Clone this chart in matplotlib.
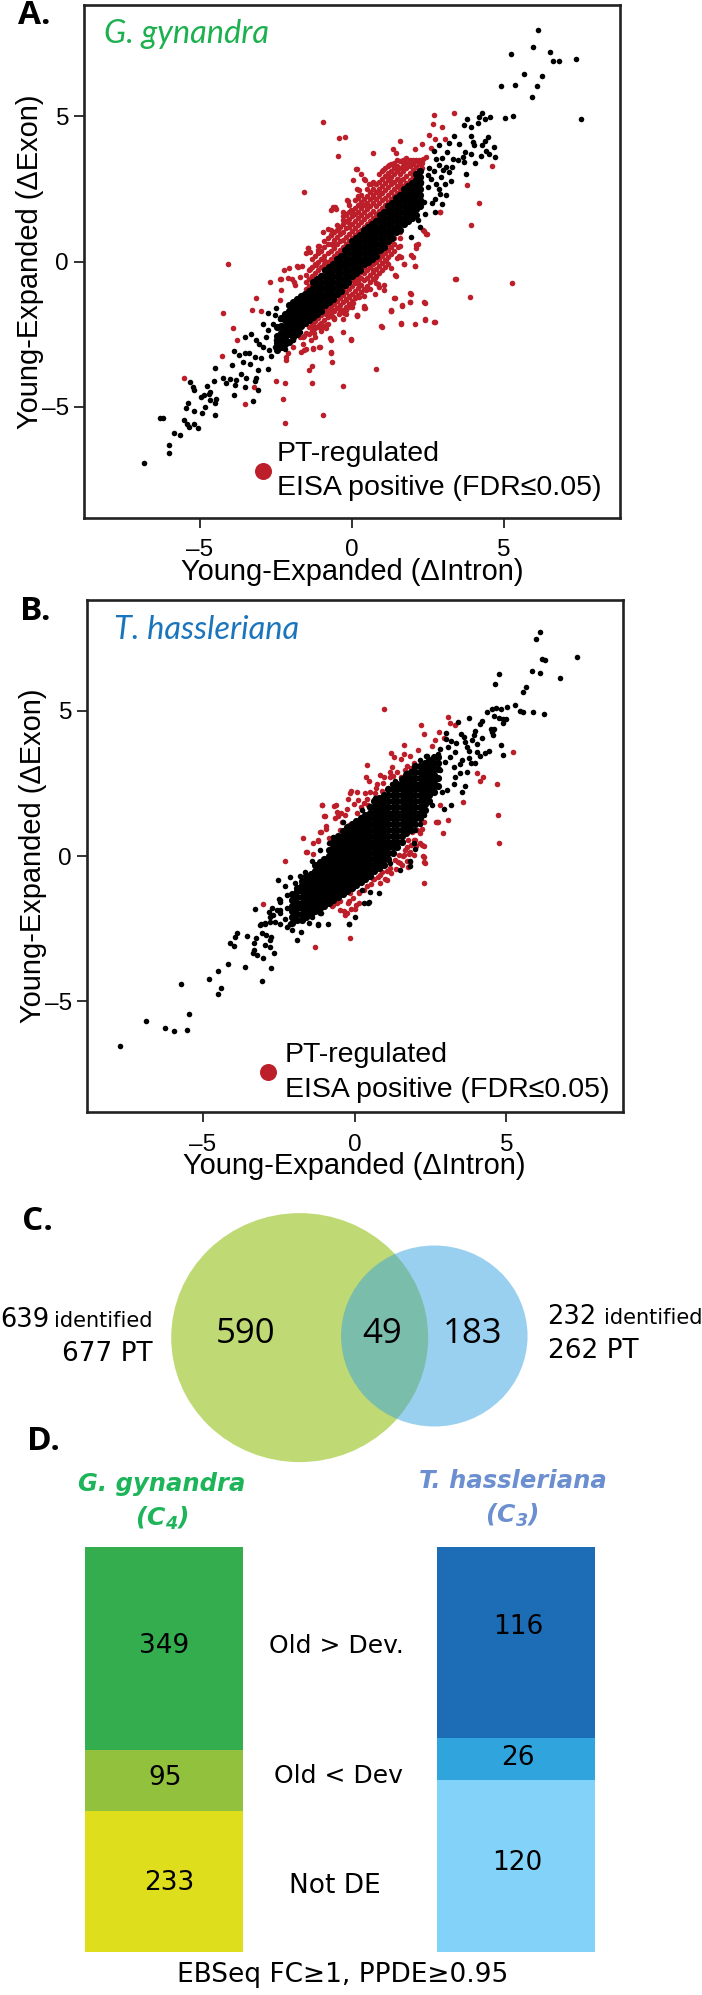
import matplotlib
matplotlib.use('Agg')
import matplotlib.pyplot as plt
from matplotlib.patches import Ellipse

W, H = 702, 1995
SANS = 'Liberation Sans'

# panel A, points (dIntron, dExon)
a_black = [
    (6.13,7.97),(5.98,7.38),(5.25,7.12),(6.52,7.22),(6.62,6.88),(6.82,6.88),(7.39,6.95),(5.67,6.44),(6.27,6.37),
    (4.91,6.05),(5.38,6.08),(6.10,6.05),(5.94,5.65),(5.03,4.94),(5.32,5.02),(7.54,4.90),(4.28,5.11),(4.18,4.96),
    (4.40,4.91),(4.54,4.96),(3.80,4.91),(4.16,4.78),(3.71,4.71),(3.91,4.63),(3.37,4.32),(3.91,4.32),(4.47,4.28),
    (3.20,4.08),(3.54,4.03),(3.98,4.11),(4.40,4.15),(2.88,4.01),(4.03,4.00),(4.28,3.99),(4.68,3.93),(2.70,3.79),
    (3.13,3.77),(3.72,3.77),(3.94,3.69),(4.42,3.80),(4.71,3.60),(4.24,3.62),(4.51,3.69),(3.65,3.60),(2.77,3.53),
    (2.97,3.56),(3.32,3.54),(3.49,3.48),(3.71,3.42),(4.07,3.40),(3.30,3.25),(2.88,3.31),(3.10,3.25),(2.53,3.22),
    (3.75,3.02),(3.21,3.08),(2.99,3.14),(2.72,3.12),(2.50,2.97),(2.94,2.91),(2.61,2.85),(3.28,2.78),(3.06,2.68),
    (2.77,2.68),(2.28,2.74),(2.88,2.51),(2.50,2.57),(3.10,2.29),(2.92,2.31),(2.73,2.16),(2.97,1.99),(2.64,2.02),
    (2.42,1.65),(2.73,1.71),(2.25,1.19),(2.17,1.42),(1.95,0.85),(2.05,2.22),(2.39,2.05),(2.12,1.88),(1.84,1.53),
    (-6.85,-6.91),(-6.02,-6.32),(-6.01,-6.59),(-5.86,-5.88),(-5.67,-5.97),(-6.30,-5.39),(-6.22,-5.39),(-5.53,-5.45),
    (-5.42,-5.59),(-5.37,-5.70),(-5.18,-5.59),(-5.08,-5.73),(-5.47,-5.05),(-5.38,-4.86),(-5.21,-5.14),(-4.93,-5.22),
    (-4.51,-5.29),(-4.84,-4.99),(-4.52,-4.86),(-4.48,-4.71),(-4.68,-4.77),(-4.96,-4.67),(-4.88,-4.60),(-4.70,-4.56),
    (-4.77,-4.28),(-4.67,-4.49),(-5.34,-4.13),(-5.23,-4.33),(-5.18,-4.42),(-4.53,-4.09),(-4.50,-3.65),(-3.89,-4.58),
    (-3.26,-4.80),(-3.09,-4.42),(-3.53,-4.33),(-3.86,-4.25),(-4.13,-4.19),(-4.24,-4.02),(-4.02,-4.05),(-3.80,-4.08),
    (-3.64,-3.85),(-3.48,-3.99),(-3.15,-4.02),(-3.20,-4.10),(-3.94,-3.56),(-3.59,-3.45),(-3.34,-3.53),(-3.09,-3.73),
    (-2.76,-3.70),(-3.88,-3.08),(-3.70,-3.22),(-3.53,-3.14),(-3.39,-3.16),(-3.20,-3.28),(-2.98,-3.33),(-2.65,-3.24),
    (-3.53,-2.61),(-3.31,-2.50),(-3.15,-2.70),(-2.93,-2.93),(-2.71,-3.05),(-3.04,-2.82),(-2.54,-2.93),(-2.82,-2.59),
    (-2.49,-2.70),(-2.21,-2.99),(-2.76,-2.36),(-2.60,-2.13),(-2.32,-2.42),(-2.93,-2.13),(-2.49,-1.61),(-2.76,-1.76),
    (-2.54,-1.84),(-2.38,-1.96),(-2.16,-2.13),(-1.94,-2.70),(-1.94,-2.47),(-1.72,-2.42),
]
# dense band of panel A, dIntron value -> dExon values
a_core = {
    -2.45: [-3.05,-2.8,-2.55,-2.25], -2.32: [-2.95,-2.7,-2.45,-2.2,-1.95], -2.19: [-2.85,-2.6,-2.4,-2.2,-2.0,-1.8],
    -2.06: [-2.75,-2.5,-2.3,-2.1,-1.9,-1.7,-1.5], -1.93: [-2.6,-2.4,-2.2,-2.0,-1.8,-1.6,-1.4],
    -1.8: [-2.5,-2.3,-2.1,-1.9,-1.7,-1.5,-1.3], -1.67: [-2.2,-2.0,-1.8,-1.6,-1.4,-1.2],
    -1.54: [-2.1,-1.9,-1.7,-1.5,-1.3,-1.1], -1.41: [-2.0,-1.8,-1.6,-1.4,-1.2,-1.0],
    -1.28: [-1.9,-1.7,-1.5,-1.3,-1.1,-0.9,-0.7], -1.15: [-1.8,-1.6,-1.4,-1.2,-1.0,-0.8,-0.6],
    -1.02: [-1.7,-1.5,-1.3,-1.1,-0.9,-0.7,-0.5], -0.89: [-1.5,-1.3,-1.1,-0.9,-0.7,-0.5,-0.3],
    -0.76: [-1.4,-1.2,-1.0,-0.8,-0.6,-0.4,-0.2], -0.63: [-1.3,-1.1,-0.9,-0.7,-0.5,-0.3,-0.1],
    -0.5: [-1.1,-0.9,-0.7,-0.5,-0.3,-0.1,0.1], -0.37: [-1.0,-0.8,-0.6,-0.4,-0.2,0.0,0.2],
    -0.24: [-0.8,-0.6,-0.4,-0.2,0.0,0.2,0.4], -0.11: [-0.7,-0.5,-0.3,-0.1,0.1,0.3,0.5],
    0.02: [-0.5,-0.3,-0.1,0.1,0.3,0.5,0.7], 0.15: [-0.4,-0.2,0.0,0.2,0.4,0.6,0.8],
    0.28: [-0.3,-0.1,0.1,0.3,0.5,0.7,0.9], 0.41: [-0.1,0.1,0.3,0.5,0.7,0.9,1.1],
    0.54: [0.0,0.2,0.4,0.6,0.8,1.0,1.2], 0.67: [0.1,0.3,0.5,0.7,0.9,1.1,1.3],
    0.8: [0.2,0.4,0.6,0.8,1.0,1.2,1.4], 0.93: [0.4,0.6,0.8,1.0,1.2,1.4,1.6],
    1.06: [0.5,0.7,0.9,1.1,1.3,1.5,1.7], 1.19: [0.7,0.9,1.1,1.3,1.5,1.7,1.9],
    1.32: [0.8,1.0,1.2,1.4,1.6,1.8,2.0], 1.45: [1.0,1.2,1.4,1.6,1.8,2.0,2.2],
    1.58: [1.1,1.3,1.5,1.7,1.9,2.1,2.3], 1.71: [1.3,1.5,1.7,1.9,2.1,2.3,2.5],
    1.84: [1.4,1.6,1.8,2.0,2.2,2.4,2.6], 1.97: [1.5,1.7,1.9,2.1,2.3,2.5,2.7],
    2.1: [1.6,1.8,2.0,2.2,2.4,2.6,2.8,3.0], 2.23: [1.9,2.1,2.3,2.5,2.7,2.9,3.1],
}
a_red = [
    (-0.94,4.79),(-0.43,4.25),(-0.24,4.29),(-0.46,3.64),(0.69,3.74),(1.60,4.16),(1.35,3.86),(1.47,3.73),(2.09,3.86),
    (2.31,4.03),(2.72,5.04),(3.37,5.12),(2.68,4.72),(2.97,4.61),(2.53,4.36),(2.75,4.23),(3.07,4.23),(2.60,3.92),
    (-1.56,2.38),(0.15,3.19),(0.03,2.81),(0.40,2.83),(0.18,2.48),(0.62,2.68),(-0.63,1.89),(-0.53,1.82),(-0.15,2.13),
    (-4.06,-0.09),(-2.69,-0.72),(-2.22,-0.28),(-2.07,-0.21),(-1.76,-0.18),(-1.44,0.45),(-1.51,0.31),(-2.32,-0.60),
    (-1.96,-0.60),(-1.88,-0.80),(-3.16,-1.26),(-2.38,-1.33),(-3.28,-1.68),(-2.99,-1.69),(-4.25,-1.78),(-3.90,-2.30),
    (-3.78,-2.70),(-4.26,-3.25),(-5.54,-4.02),(-2.51,-4.12),(-2.21,-4.19),(-1.32,-4.17),(-0.28,-4.28),(-3.22,-4.30),
    (-2.28,-4.74),(-3.53,-4.91),(-0.94,-5.29),(-2.21,-5.56),(0.81,-3.69),(-1.40,-3.73),(-1.32,-3.58),(-0.69,-3.12),
    (-0.66,-3.46),(-0.71,-2.64),(-0.01,-2.65),(0.97,-2.22),(1.62,-2.11),(2.09,-2.14),(2.40,-1.98),(2.71,-2.07),
    (1.28,-1.69),(1.40,-1.26),(1.65,-1.50),(1.91,-1.09),(1.91,-1.39),(2.38,-1.39),(3.41,-0.59),(3.90,-1.21),(5.26,-0.73),
    (3.91,1.26),(4.19,2.01),(3.79,2.64),(4.60,3.29),(2.90,1.69),(2.38,1.04),(2.47,0.94),(2.13,0.58),(2.09,-0.14),
    (2.01,0.16),(1.72,-0.08),(1.57,0.18),(1.43,-0.47),(1.06,-0.80),(0.91,-0.87),(0.76,-1.13),(0.40,-1.52),(0.18,-1.85),
    (-0.26,-1.78),(-0.63,-1.92),(-1.29,-2.18),(-1.07,-2.24),(-0.85,-2.18),(-1.59,-2.57),(-1.29,-2.97),(-1.59,-3.03),
    (-1.07,-2.94),(-2.10,-3.16),(-2.18,-3.29),(-1.67,-3.10),(-1.50,-3.02),(-1.28,-2.99),(-1.06,-2.93),(-0.68,-3.14),
    (-0.70,-2.68),(-0.30,-2.42),(-0.02,-2.68),(0.16,-1.84),(0.39,-1.59),(0.99,-2.24),(1.29,-1.67),(-0.57,-1.96),
    (-0.30,-1.96),(-0.95,-2.24),(-1.23,-2.24),(-1.50,-2.47),(-1.72,-2.59),(-1.94,-2.93),(-2.16,-3.39),(-0.62,-1.67),
    (-0.84,-1.79),(-1.06,-2.13),(-0.19,-1.67),(0.03,-1.44),(0.25,-1.21),(-0.08,-1.21),(-0.41,-1.56),(-0.73,-1.50),
    (-1.23,-2.47),(-1.61,-2.82),
    (-2.35,-0.61),(-2.32,-0.99),(-2.11,-0.55),(-1.89,-0.70),(-1.80,-0.16),(-1.63,-0.16),(-1.72,-0.53),(-1.39,-0.24),
    (-1.45,0.45),(-1.39,0.33),(-1.09,0.53),(-0.95,1.02),(-0.79,1.13),(-0.68,1.76),(-0.54,1.86),(-0.13,2.07),(0.16,3.17),
    (0.31,3.02),(0.44,2.82),(0.23,2.47),(0.20,2.25),(0.58,2.65),(0.80,2.65),(1.22,3.31),(1.40,3.29),(1.04,3.14),(1.18,2.97),
    (1.29,2.74),(1.51,2.85),(1.68,3.42),(1.90,3.37),(2.12,3.48),(2.34,3.54),(2.45,3.60),(1.57,2.57),(0.96,2.34),(0.69,2.22),
    (0.47,1.99),(0.25,1.94),(-0.02,1.76),(-0.18,1.65),(-0.30,1.42),(-0.13,1.36),(-0.46,1.08),(-0.68,0.90),(-0.63,0.56),
    (-1.12,0.39),(-0.90,0.05),(-1.17,-0.13),
    (3.43,-0.60),(1.95,-1.10),(1.43,-1.26),(1.93,-1.40),(2.40,-1.42),(1.66,-1.52),(1.29,-1.70),(2.41,-2.00),(2.73,-2.08),
    (1.63,-2.13),(0.42,-1.60),(0.16,-1.86),(1.07,-0.99),(0.86,-0.76),(0.75,-0.58),(1.44,-0.49),(1.29,-0.22),(1.62,0.16),
    (1.48,0.13),(1.73,-0.10),(1.95,0.22),(2.09,-0.16),(1.13,0.01),(2.17,0.62),(2.12,0.48),(2.45,0.96),(2.34,1.08),(2.91,1.70),
    (1.51,0.50),(0.47,-0.99),(0.14,-1.21),(-0.08,-1.56),(-0.41,-1.79),(-0.84,-2.30),(-1.23,-2.25),(-1.61,-2.59),(-1.34,-2.70),
    (0.25,-0.76),(0.69,-0.30),(-0.19,-1.33),(-0.84,-1.79),
]
a_red_up = {
    -1.5: [-0.95,-0.7,-0.45], -1.4: [-0.85,-0.6,-0.3], -1.3: [-0.75,-0.5,-0.2,0.1], -1.2: [-0.65,-0.4,-0.1,0.2], -1.1: [-0.55,-0.3,0.0,0.3,0.55],
    -1.0: [-0.45,-0.2,0.1,0.35], -0.9: [-0.3,-0.1,0.2,0.5,0.7], -0.8: [-0.2,0.0,0.3,0.6,0.8], -0.7: [-0.1,0.1,0.35,0.6,0.9,1.1],
    -0.6: [0.0,0.2,0.45,0.75,1.0], -0.5: [0.1,0.3,0.6,0.85,1.1,1.25], -0.4: [0.2,0.4,0.7,0.95,1.2], -0.3: [0.3,0.5,0.75,1.0,1.3,1.55,1.7],
    -0.2: [0.4,0.6,0.85,1.15,1.4,1.6], -0.1: [0.5,0.7,0.95,1.2,1.45,1.7,1.95], 0.0: [0.6,0.8,1.05,1.3,1.55,1.75],
    0.1: [0.7,0.9,1.15,1.4,1.65,1.85,2.1], 0.2: [0.8,1.0,1.25,1.5,1.7,1.95,2.2], 0.3: [0.9,1.1,1.35,1.6,1.85,2.05,2.3],
    0.4: [1.0,1.2,1.45,1.7,1.95,2.15], 0.5: [1.1,1.3,1.55,1.8,2.0,2.25,2.5], 0.6: [1.2,1.4,1.65,1.9,2.15,2.4],
    0.7: [1.3,1.5,1.75,2.0,2.3,2.5,2.75], 0.8: [1.45,1.65,1.9,2.15,2.4,2.65], 0.9: [1.55,1.75,2.0,2.25,2.5,2.75,3.0],
    1.0: [1.65,1.85,2.1,2.35,2.6,2.85,3.1], 1.1: [1.75,1.95,2.2,2.45,2.7,2.95,3.2], 1.2: [1.85,2.05,2.3,2.55,2.8,3.05,3.3],
    1.3: [1.95,2.15,2.4,2.65,2.9,3.1,3.35], 1.4: [2.05,2.25,2.5,2.75,3.0,3.2,3.4], 1.5: [2.15,2.35,2.6,2.85,3.1,3.3,3.5],
    1.6: [2.3,2.5,2.75,3.0,3.2,3.45], 1.7: [2.4,2.6,2.85,3.1,3.3,3.5], 1.8: [2.5,2.7,2.95,3.2,3.4,3.55], 1.9: [2.6,2.8,3.05,3.3,3.5],
    2.0: [2.7,2.9,3.15,3.35,3.5], 2.1: [3.05,3.25,3.45], 2.2: [3.15,3.35,3.5], 2.3: [3.2,3.4],
}
a_red_low = {
    -1.4: [-2.25,-2.5], -1.3: [-2.15,-2.4], -1.2: [-1.95,-2.05,-2.3,-2.6], -1.1: [-1.8,-1.95,-2.2], -1.0: [-1.65,-1.85,-2.1,-2.4],
    -0.9: [-1.55,-1.75,-2.0], -0.8: [-1.45,-1.65,-1.9,-2.15], -0.7: [-1.35,-1.55,-1.8], -0.6: [-1.25,-1.45,-1.7,-1.95], -0.5: [-1.15,-1.35,-1.6],
    -0.4: [-1.05,-1.25,-1.5,-1.75], -0.3: [-0.95,-1.15,-1.4,-1.65], -0.2: [-0.85,-1.05,-1.3,-1.55,-1.8], -0.1: [-0.75,-0.95,-1.2,-1.45],
    0.0: [-0.65,-0.85,-1.1,-1.35,-1.55], 0.1: [-0.55,-0.75,-1.0,-1.25], 0.2: [-0.45,-0.65,-0.9,-1.15], 0.3: [-0.35,-0.55,-0.8,-1.05],
    0.4: [-0.2,-0.4,-0.65,-0.95,-1.2], 0.5: [-0.1,-0.3,-0.55,-0.85], 0.6: [0.0,-0.2,-0.45,-0.7,-0.95], 0.7: [0.1,-0.1,-0.35,-0.6],
    0.8: [0.2,0.0,-0.25,-0.5,-0.75], 0.9: [0.3,0.1,-0.15,-0.4], 1.0: [0.4,0.2,-0.05,-0.3], 1.1: [0.5,0.3,0.05,-0.2], 1.2: [0.6,0.4,0.15,-0.1],
    1.3: [0.7,0.5,0.25], 1.4: [0.8,0.6,0.35], 1.6: [1.0,0.8,0.55],
}

# panel B
b_black = [
    (6.09,7.71),(5.96,7.49),(6.17,6.80),(6.28,6.77),(7.31,6.86),(5.84,6.38),(6.12,6.31),(4.77,6.27),(6.75,6.15),
    (4.61,5.93),(5.65,5.83),(5.54,5.64),(5.27,5.22),(5.02,5.13),(4.35,4.98),(4.54,5.08),(4.67,5.10),(4.82,5.08),
    (5.46,5.01),(5.54,4.97),(5.87,4.95),(6.24,4.89),(4.59,4.84),(3.78,4.76),(4.74,4.76),(4.90,4.72),(4.99,4.72),
    (3.39,4.63),(4.19,4.64),(4.90,4.59),(4.13,4.54),(4.50,4.39),(4.60,4.39),(3.97,4.31),(4.52,4.27),(3.01,4.24),
    (3.92,4.16),(4.56,4.17),(3.50,4.22),(3.59,4.11),(4.18,4.08),(3.86,3.99),(3.01,4.05),(3.64,3.93),(3.18,3.97),
    (4.82,3.82),(4.03,3.86),(3.33,3.88),(3.70,3.76),(3.09,3.76),(4.41,3.62),(2.80,3.70),(4.30,3.56),(4.90,3.49),
    (4.03,3.59),(3.77,3.61),(4.13,3.44),(3.31,3.59),(2.76,3.53),(2.38,3.45),(3.15,3.42),(3.75,3.39),(3.53,3.30),
    (3.97,3.22),(3.84,3.22),(3.48,3.17),(3.26,3.07),(2.98,3.25),(3.70,2.90),(3.48,2.87),(3.31,2.73),(2.82,2.96),
    (3.64,2.42),(3.27,2.48),(3.04,2.27),(3.55,2.20),(2.87,2.21),(3.18,1.75),(2.54,1.75),(2.93,1.61),(2.27,1.41),
    (2.16,1.12),(1.99,0.89),
    (-7.72,-6.53),(-6.87,-5.68),(-6.26,-5.92),(-5.96,-6.03),(-5.54,-6.0),(-5.46,-5.45),(-5.72,-4.39),(-4.79,-4.22),
    (-4.52,-3.95),(-4.42,-4.54),(-4.49,-4.74),(-4.18,-3.72),(-3.63,-3.81),(-3.06,-4.29),(-2.77,-3.86),(-3.01,-3.51),
    (-3.22,-3.42),(-3.35,-3.35),(-3.31,-3.23),(-2.66,-3.35),(-4.10,-3.0),(-3.97,-3.10),(-3.95,-2.80),(-3.88,-2.63),
    (-3.56,-2.75),(-3.25,-2.83),(-3.31,-3.0),(-2.78,-3.12),(-2.95,-3.06),(-2.79,-2.89),(-3.05,-2.64),(-2.91,-2.72),
    (-2.75,-2.80),(-1.89,-2.90),(-1.77,-2.60),(-3.30,-1.82),(-3.09,-2.35),(-2.95,-2.32),(-2.73,-1.77),(-2.84,-1.91),
    (-2.68,-2.03),(-2.79,-2.26),(-2.62,-2.26),(-2.45,-2.32),(-2.24,-2.43),(-2.07,-2.55),(-2.13,-2.32),(-2.30,-2.15),
    (-2.45,-1.97),(-2.56,-1.86),(-2.45,-1.51),(-2.24,-1.80),(-2.02,-1.97),(-1.74,-2.09),(-1.50,-2.29),(-1.20,-2.36),
    (-0.87,-2.32),(-1.11,-1.97),(-1.47,-1.86),(-1.90,-1.69),(-2.24,-1.34),(-2.02,-1.40),(-0.20,-2.32),(0.02,-2.11),
    (0.29,-1.63),(0.46,-1.57),
    (-2.54,-0.83),(-2.12,-0.73),(-2.29,-1.02),(-1.80,-0.69),(-1.63,-0.54),(-1.96,-0.94),(-2.48,-1.46),(-2.96,-2.29),
    (-2.47,-1.57),(-1.96,-1.28),(-1.91,-1.63),(-1.41,-2.09),(-1.22,-2.35),(-1.14,-1.97),(-0.20,-2.33),(0.45,-1.63),
    (0.80,-1.27),(0.51,-1.23),(0.24,-1.17),(1.50,-0.49),(1.83,-0.34),(1.81,-0.16),(1.99,0.23),(1.96,0.44),(-0.37,1.18),
    (0.23,1.58),(0.67,2.01),(1.22,2.50),(1.33,2.59),(1.69,2.88),(1.94,3.02),(2.16,3.30),(2.35,3.44),(-0.86,0.44),
    (-1.14,0.21),(-1.41,-0.16),(-0.70,0.66),(1.17,-0.25),(-0.48,-1.28),(-0.86,-1.34),(-1.25,-1.63),(-2.79,-2.09),
    (-3.13,-2.37),(-2.46,-1.86),(-2.02,-1.86),(-2.13,-2.32),
]
b_core = {
    -2.05: [-2.3,-2.1,-1.9,-1.7,-1.5,-1.3], -1.9: [-2.2,-2.0,-1.8,-1.6,-1.4,-1.2,-1.1],
    -1.75: [-2.2,-2.0,-1.8,-1.6,-1.4,-1.2,-1.0,-0.85], -1.6: [-2.1,-1.9,-1.7,-1.5,-1.3,-1.1,-0.9,-0.7],
    -1.45: [-2.0,-1.8,-1.6,-1.4,-1.2,-1.0,-0.8,-0.6], -1.3: [-1.9,-1.7,-1.5,-1.3,-1.1,-0.9,-0.7,-0.5,-0.3],
    -1.15: [-1.8,-1.6,-1.4,-1.2,-1.0,-0.8,-0.6,-0.4,-0.2], -1.0: [-1.7,-1.5,-1.3,-1.1,-0.9,-0.7,-0.5,-0.3,-0.1],
    -0.85: [-1.6,-1.4,-1.2,-1.0,-0.8,-0.6,-0.4,-0.2,0.0,0.2], -0.7: [-1.5,-1.3,-1.1,-0.9,-0.7,-0.5,-0.3,-0.1,0.1,0.3,0.5],
    -0.55: [-1.4,-1.2,-1.0,-0.8,-0.6,-0.4,-0.2,0.0,0.2,0.4,0.6,0.7], -0.4: [-1.3,-1.1,-0.9,-0.7,-0.5,-0.3,-0.1,0.1,0.3,0.5,0.7,0.85],
    -0.25: [-1.2,-1.0,-0.8,-0.6,-0.4,-0.2,0.0,0.2,0.4,0.6,0.8,1.0], -0.1: [-1.1,-0.9,-0.7,-0.5,-0.3,-0.1,0.1,0.3,0.5,0.7,0.9,1.1],
    0.05: [-1.0,-0.8,-0.6,-0.4,-0.2,0.0,0.2,0.4,0.6,0.8,1.0,1.2], 0.2: [-0.9,-0.7,-0.5,-0.3,-0.1,0.1,0.3,0.5,0.7,0.9,1.1,1.3],
    0.35: [-0.8,-0.6,-0.4,-0.2,0.0,0.2,0.4,0.6,0.8,1.0,1.2,1.4], 0.5: [-0.7,-0.5,-0.3,-0.1,0.1,0.3,0.5,0.7,0.9,1.1,1.3,1.5,1.7],
    0.65: [-0.5,-0.3,-0.1,0.1,0.3,0.5,0.7,0.9,1.1,1.3,1.5,1.7,1.9], 0.8: [-0.4,-0.2,0.0,0.2,0.4,0.6,0.8,1.0,1.2,1.4,1.6,1.8,2.0],
    0.95: [-0.3,-0.1,0.1,0.3,0.5,0.7,0.9,1.1,1.3,1.5,1.7,1.9,2.1], 1.1: [-0.1,0.1,0.3,0.5,0.7,0.9,1.1,1.3,1.5,1.7,1.9,2.1,2.3],
    1.25: [0.1,0.3,0.5,0.7,0.9,1.1,1.3,1.5,1.7,1.9,2.1,2.3], 1.4: [0.3,0.5,0.7,0.9,1.1,1.3,1.5,1.7,1.9,2.1,2.3,2.5],
    1.55: [0.5,0.7,0.9,1.1,1.3,1.5,1.7,1.9,2.1,2.3,2.5,2.65], 1.7: [0.8,1.0,1.2,1.4,1.6,1.8,2.0,2.2,2.4,2.6,2.8],
    1.85: [0.9,1.1,1.3,1.5,1.7,1.9,2.1,2.3,2.5,2.7,2.9], 2.0: [1.1,1.3,1.5,1.7,1.9,2.1,2.3,2.5,2.7,2.9,3.1],
    2.15: [1.3,1.5,1.7,1.9,2.1,2.3,2.5,2.7,2.9,3.1], 2.3: [1.6,1.8,2.0,2.2,2.4,2.6,2.8,3.0,3.2],
    2.45: [1.9,2.1,2.3,2.5,2.7,2.9,3.1,3.3], 2.6: [2.2,2.4,2.6,2.8,3.0,3.2,3.4], 2.75: [2.4,2.7,3.0,3.2,3.4],
}
b_red = [
    (0.96,5.07),(3.07,4.79),(3.13,4.59),(3.30,4.50),(2.19,4.50),(2.77,4.28),(2.27,4.20),(2.66,3.99),(2.93,4.08),
    (1.62,3.83),(2.55,3.78),(2.08,3.66),(1.21,3.56),(1.61,3.52),(1.81,3.45),(1.28,3.41),(1.51,3.33),(5.23,3.60),
    (0.40,3.15),(1.22,3.07),(1.72,3.11),(1.96,3.22),(1.17,2.90),(0.84,2.81),(0.36,2.72),(0.95,2.73),(0.47,2.60),
    (1.17,2.73),(1.52,2.73),(4.03,2.87),(4.24,2.71),(4.13,2.58),(4.68,2.49),(0.93,2.53),(0.75,2.50),(1.33,2.56),
    (-0.13,2.24),(0.09,2.22),(-0.17,2.16),(0.35,2.18),(0.51,2.21),(0.68,2.16),(-0.21,1.98),(0.12,1.95),(0.40,1.98),
    (0.62,1.93),(-0.02,1.81),(0.31,1.83),(3.56,1.88),(2.82,1.75),(-0.31,1.43),(0.07,1.47),(0.20,1.35),(3.06,1.25),
    (2.69,1.17),(2.74,1.17),(4.72,1.40),(2.91,0.78),(2.27,1.18),(2.21,0.95),(2.16,0.78),(1.88,0.84),(4.77,0.46),
    (1.99,0.55),(2.27,0.34),(2.16,0.44),(1.96,0.03),(2.29,-0.02),(2.31,-0.22),(1.83,-0.19),(1.77,-0.39),(1.66,0.21),
    (2.27,-0.94),(1.50,-0.25),(1.33,-0.14),(1.17,-0.42),(0.84,-0.94),(1.06,-0.83),
    (-2.29,-0.18),(-1.69,0.62),(-1.59,0.14),(-1.37,0.47),(-1.15,0.84),(-1.0,1.39),(-1.07,1.75),(-0.63,1.75),(-0.56,1.39),
    (-0.93,0.93),(-0.41,1.19),(-1.22,0.54),(-0.78,0.60),(-3.03,-1.64),(-1.32,-3.13),(-0.14,-2.81),(-0.31,-2.02),
    (0.03,-1.69),(-0.71,-1.69),(-0.49,-1.56),(-0.12,-1.82),(-0.34,-1.89),(0.54,-0.97),(0.99,-0.77),(1.35,-0.45),
    (1.57,-0.31),(2.28,-0.21),(2.24,0.01),(1.72,-0.18),(1.79,0.08),(2.01,0.34),(1.21,-0.58),(0.76,-0.71),(0.40,-1.04),
    (-0.20,-1.55),(-0.05,-1.45),(0.15,-1.25),(0.30,-1.15),(0.60,-0.80),(0.90,-0.55),(1.05,-0.50),(1.45,0.05),(1.60,0.00),
    (1.85,0.40),(1.75,0.55),(-0.25,1.62),(-0.45,1.50),(0.22,1.70),(0.45,1.75),(0.70,2.35),(0.90,2.25),(1.10,2.35),
    (1.25,2.75),(1.40,2.90),(1.65,2.95),(1.85,3.05),
    (-1.08,1.77),(-0.67,1.74),(-0.57,1.53),(-0.98,1.39),(-0.65,1.30),(-0.94,1.03),(-1.11,0.83),(-1.22,0.53),(-0.48,0.89),
    (-0.20,1.07),(-0.86,0.61),(-1.58,0.16),(-1.38,0.07),(2.71,1.16),(2.21,0.38),(1.94,0.55),(2.05,0.89),(1.72,0.32),
    (1.83,0.15),(1.61,0.03),(1.44,-0.19),(0.62,-0.77),(0.84,-0.65),(0.13,-1.63),(0.13,-1.28),(-0.15,-1.28),(-0.21,-1.63),
    (0.0,-1.83),(-0.27,-1.97),(-0.59,-1.63),(-0.75,-1.72),(-0.48,-1.86),
]

# panel C
venn_counts = ['590', '49', '183']
# panel D, share of each drawn block (top to bottom) and its printed count
g_counts = ['349', '95', '233']
g_heights = [50.2, 15.1, 34.7]
g_colors = ['#34AD4E', '#92C13D', '#DEDE1C']
t_counts = ['116', '26', '120']
t_heights = [47.2, 10.4, 42.4]
t_colors = ['#1C6CB6', '#30A4DC', '#82D2FA']
middle_labels = ['Old > Dev.', 'Old < Dev', 'Not DE']
tick_values = [-5, 0, 5]
tick_labels = ['–5', '0', '5']
RED = '#BC1F2A'


def flat(core):
    return [(x, y) for x, ys in core.items() for y in ys]


def px_axes(fig, left, top, right, bottom):
    return fig.add_axes([left / W, 1 - bottom / H, (right - left) / W, (bottom - top) / H])


def scatter_panel(fig, box, black, core, red, dot, label_y_x, label_x_y):
    ax = px_axes(fig, *box)
    for pts, size, color, z in [(red, 16, RED, 2), (black, 16, 'black', 3), (core, 27, 'black', 3)]:
        xs, ys = zip(*pts)
        ax.scatter(xs, ys, s=size, color=color, linewidths=0, zorder=z)
    ax.scatter([dot[0]], [dot[1]], s=150, color=RED, linewidths=0, zorder=3)
    ax.set_xlim(-8.83, 8.83)
    ax.set_ylim(-8.81, 8.81)
    ax.set_xticks(tick_values, tick_labels)
    ax.set_yticks(tick_values, tick_labels)
    ax.tick_params(axis='both', labelsize=17.5, length=7.5, width=1.3, color='#222222')
    ax.tick_params(axis='x', pad=8)
    ax.tick_params(axis='y', pad=3)
    for s in ax.spines.values():
        s.set_linewidth(1.9)
        s.set_color('#222222')
    ax.set_xlabel('Young-Expanded (ΔIntron)', fontsize=20.9, va='center')
    ax.set_ylabel('Young-Expanded (ΔExon)', fontsize=20.9, va='center')
    ax.xaxis.set_label_coords(0.5, label_x_y)
    ax.yaxis.set_label_coords(label_y_x, 0.5)
    return ax


def main():
    plt.rcParams['font.family'] = SANS
    plt.rcParams['mathtext.fontset'] = 'dejavusans'
    fig = plt.figure(figsize=(W / 100, H / 100), dpi=100)

    scatter_panel(fig, (83.6, 5.3, 620, 517.8), a_black, flat(a_core),
                  a_red + flat(a_red_up) + flat(a_red_low), (-2.94, -7.2), -0.099, -0.105)
    scatter_panel(fig, (86.7, 600.3, 622.7, 1112), b_black, flat(b_core), b_red,
                  (-2.87, -7.42), -0.1, -0.105)

    # stacked blocks of panel D
    bars = px_axes(fig, 84.5, 1547, 595.4, 1952)
    bars.set_xlim(-0.2243, 1.2243)
    bars.set_ylim(100, 0)
    bars.axis('off')
    for pos, heights, colors in [(0, g_heights, g_colors), (1, t_heights, t_colors)]:
        bottom = 0
        for h, c in zip(heights, colors):
            bars.bar(pos, h, bottom=bottom, width=0.4486, color=c, linewidth=0)
            bottom += h

    # everything else is placed in picture pixels on a clear layer
    top = fig.add_axes([0, 0, 1, 1], zorder=5, facecolor='none')
    top.set_xlim(0, W)
    top.set_ylim(H, 0)
    top.axis('off')

    def txt(x, y, s, size, ha='center', **kw):
        top.text(x, y, s, fontsize=size, ha=ha, va='center', **kw)

    for x, y, s in [(18, 16, 'A.'), (20, 611, 'B.'), (22, 1222, 'C.'), (27, 1442, 'D.')]:
        txt(x, y, s, 24, ha='left', fontweight='bold', family='Open Sans')

    txt(104, 34, 'G. gynandra', 23.5, ha='left', style='italic', color='#1DB04F', family='Lato')
    txt(114, 630, 'T. hassleriana', 23.5, ha='left', style='italic', color='#1B75BC', family='Lato')
    txt(277, 454, 'PT-regulated', 20.5, ha='left')
    txt(277, 488, 'EISA positive (FDR≤0.05)', 20.5, ha='left')
    txt(284.8, 1055.4, 'PT-regulated', 20.5, ha='left')
    txt(284.8, 1089.8, 'EISA positive (FDR≤0.05)', 20.5, ha='left')

    # venn
    top.add_patch(Ellipse((299.7, 1337.6), 257, 249, facecolor='#BFD975', edgecolor='none'))
    top.add_patch(Ellipse((434.3, 1336), 186.5, 181, facecolor='#37A3E1', alpha=0.5, edgecolor='none'))
    for x, s in zip([246, 382, 473], venn_counts):
        txt(x, 1334, s, 25, family='Open Sans')
    dv = 'DejaVu Sans'
    txt(49, 1320, '639', 18.5, ha='right', family=dv)
    txt(153, 1321, 'identified', 15, ha='right', family=dv)
    txt(153, 1354, '677 PT', 19, ha='right', family=dv)
    txt(547.6, 1316.7, '232', 18.5, ha='left', family=dv)
    txt(603.5, 1318, 'identified', 15, ha='left', family=dv)
    txt(547.6, 1350.5, '262 PT', 19, ha='left', family=dv)

    # headers and labels of panel D
    txt(162, 1484, 'G. gynandra', 17.5, fontweight='bold', style='italic', color='#1DB45A', family=dv)
    txt(162, 1518, r'$\mathbfit{(C_4)}$', 18, color='#1DB45A')
    txt(512.7, 1481, 'T. hassleriana', 17.5, fontweight='bold', style='italic', color='#6B8FD0', family=dv)
    txt(512, 1515.6, r'$\mathbfit{(C_3)}$', 18, color='#6B8FD0')
    for (x, y), s in zip([(164, 1646), (165.4, 1778), (169, 1883)], g_counts):
        txt(x, y, s, 19, family=dv)
    for (x, y), s in zip([(518.6, 1627), (517.7, 1757.7), (517, 1862.8)], t_counts):
        txt(x, y, s, 19, family=dv)
    for (x, y), s, size in zip([(336, 1646), (338, 1776), (335, 1886)], middle_labels, [18, 18, 19]):
        txt(x, y, s, size, family=dv)
    txt(343, 1975, 'EBSeq FC≥1, PPDE≥0.95', 19, family=dv)

    fig.savefig('out.png', dpi=100)


if __name__ == '__main__':
    main()
